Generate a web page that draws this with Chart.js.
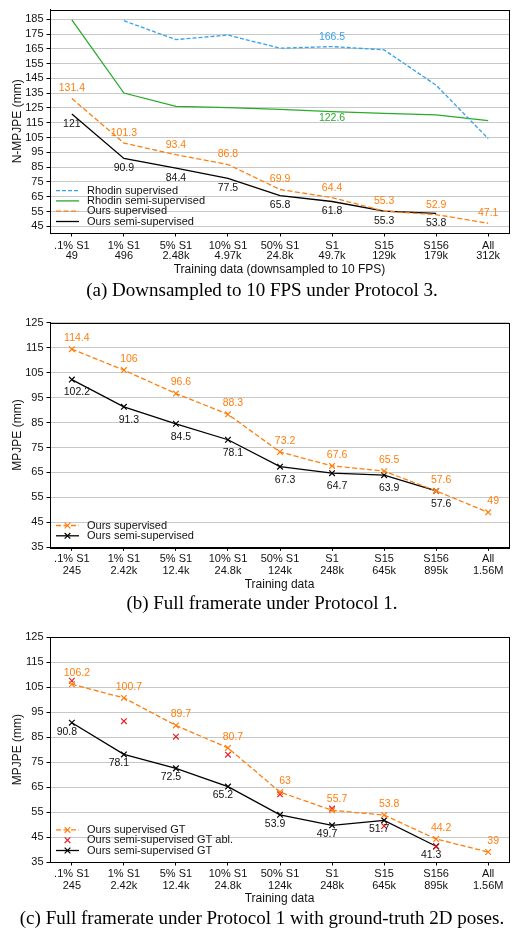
<!DOCTYPE html>
<html>
<head>
<meta charset="utf-8">
<script src="https://cdn.jsdelivr.net/npm/chart.js@4.4.1/dist/chart.umd.min.js"></script>
<style>
body { margin: 0; background: #fff; width: 528px; height: 941px; position: relative; overflow: hidden; }
.box { position: absolute; left: 0; width: 528px; }
.cap { position: absolute; left: 0; width: 524px; text-align: center; font-family: "Liberation Serif", serif;
       font-size: 19px; line-height: 22px; color: #000; white-space: nowrap; }
</style>
</head>
<body>
<div class="box" style="top:0;height:281px"><canvas id="chartA"></canvas></div>
<div class="cap" style="top:279px">(a) Downsampled to 10 FPS under Protocol 3.</div>
<div class="box" style="top:310px;height:286px"><canvas id="chartB"></canvas></div>
<div class="cap" style="top:592px">(b) Full framerate under Protocol 1.</div>
<div class="box" style="top:625px;height:285px"><canvas id="chartC"></canvas></div>
<div class="cap" style="top:907px">(c) Full framerate under Protocol 1 with ground-truth 2D poses.</div>
<script>
// categories (two-line tick labels)
const labelsA = [['.1% S1', '49'], ['1% S1', '496'], ['5% S1', '2.48k'], ['10% S1', '4.97k'], ['50% S1', '24.8k'],
    ['S1', '49.7k'], ['S15', '129k'], ['S156', '179k'], ['All', '312k']];
const labelsBC = [['.1% S1', '245'], ['1% S1', '2.42k'], ['5% S1', '12.4k'], ['10% S1', '24.8k'], ['50% S1', '124k'],
    ['S1', '248k'], ['S15', '645k'], ['S156', '895k'], ['All', '1.56M']];

// y tick labels
const ticksA = [45, 55, 65, 75, 85, 95, 105, 115, 125, 135, 145, 155, 165, 175, 185];
const ticksBC = [35, 45, 55, 65, 75, 85, 95, 105, 115, 125];

// (a) downsampled to 10 FPS, protocol 3
const rhodinSupA = [null, 184, 171.2, 174.3, 165.4, 166.5, 164.3, 140.4, 104.3];
const rhodinSemiA = [184.5, 135.1, 126.1, 125.3, 124.1, 122.6, 121.3, 120.4, 116.4];
const oursSupA = [131.4, 101.3, 93.4, 86.8, 69.9, 64.4, 55.3, 52.9, 47.1];
const oursSemiA = [121, 90.9, 84.4, 77.5, 65.8, 61.8, 55.3, 53.8, null];

// (b) full framerate, protocol 1
const oursSupB = [114.4, 106, 96.6, 88.3, 73.2, 67.6, 65.5, 57.6, 49];
const oursSemiB = [102.2, 91.3, 84.5, 78.1, 67.3, 64.7, 63.9, 57.6, null];

// (c) full framerate, protocol 1, GT 2D poses
const oursSupC = [106.2, 100.7, 89.7, 80.7, 63, 55.7, 53.8, 44.2, 39];
const oursAblC = [107.6, 91.4, 85.2, 78, 62.1, 56.4, 49.4, 41.1, null];
const oursSemiC = [90.8, 78.1, 72.5, 65.2, 53.9, 49.7, 51.7, 41.3, null];

const BLUE = '#35a2ea', GREEN = '#2aaa2a', ORANGE = '#ff7f0e', RED = '#e8202a', BLACK = '#000';
const SANS = '"Liberation Sans", Arial, sans-serif';
const TXT = '#111';

function toXY(arr) {
    return arr.map((y, i) => ({ x: i, y: y })).filter(p => p.y !== null);
}

// black frame round the plot
const framePlugin = {
    id: 'frame',
    afterDatasetsDraw(chart) {
        const a = chart.chartArea, ctx = chart.ctx;
        ctx.save();
        ctx.strokeStyle = '#000';
        ctx.lineWidth = 1;
        ctx.strokeRect(Math.round(a.left) + 0.5, Math.round(a.top) + 0.5,
            Math.round(a.right - a.left), Math.round(a.bottom - a.top));
        ctx.restore();
    }
};

// value text next to the points
const valuePlugin = {
    id: 'values',
    afterDatasetsDraw(chart) {
        const ctx = chart.ctx;
        ctx.save();
        ctx.font = '10.5px ' + SANS;
        ctx.textAlign = 'center';
        ctx.textBaseline = 'middle';
        chart.data.datasets.forEach((ds, i) => {
            const v = ds.valueLabels;
            if (!v) return;
            const meta = chart.getDatasetMeta(i);
            ctx.fillStyle = v.color || ds.borderColor;
            meta.data.forEach((pt, j) => {
                if (v.only && !v.only.includes(j)) return;
                ctx.fillText(String(ds.data[j].y), pt.x + v.dx, pt.y + v.dy);
            });
        });
        ctx.restore();
    }
};

function drawCross(ctx, x, y, r) {
    const d = Math.cos(Math.PI / 4) * r;
    ctx.beginPath();
    ctx.moveTo(x - d, y - d); ctx.lineTo(x + d, y + d);
    ctx.moveTo(x - d, y + d); ctx.lineTo(x + d, y - d);
    ctx.stroke();
}

// legend in lower left corner of the plot
const legendPlugin = {
    id: 'insideLegend',
    afterDraw(chart) {
        const a = chart.chartArea, ctx = chart.ctx;
        const sets = chart.data.datasets;
        const n = sets.length;
        ctx.save();
        ctx.font = '11px ' + SANS;
        ctx.textBaseline = 'middle';
        ctx.textAlign = 'left';
        sets.forEach((ds, j) => {
            const y = a.bottom - 11.5 - (n - 1 - j) * 10.3;
            const x0 = a.left + 6, x1 = a.left + 29;
            ctx.strokeStyle = ds.borderColor;
            ctx.lineWidth = ds.borderWidth;
            if (ds.showLine !== false) {
                ctx.setLineDash(ds.borderDash || []);
                ctx.beginPath();
                ctx.moveTo(x0, y); ctx.lineTo(x1, y);
                ctx.stroke();
                ctx.setLineDash([]);
            }
            if (ds.pointRadius > 0) {
                ctx.strokeStyle = ds.pointBorderColor || ds.borderColor;
                ctx.lineWidth = ds.pointBorderWidth || 1;
                drawCross(ctx, (x0 + x1) / 2, y, ds.pointRadius);
            }
            ctx.fillStyle = TXT;
            ctx.fillText(ds.label, a.left + 37, y);
        });
        ctx.restore();
    }
};

function makeChart(id, o) {
    return new Chart(document.getElementById(id), {
        type: 'line',
        data: { datasets: o.datasets },
        options: {
            responsive: true,
            maintainAspectRatio: false,
            animation: false,
            events: [],
            layout: { padding: { top: o.padTop, right: 19, left: 0, bottom: 0 } },
            plugins: { legend: { display: false }, tooltip: { enabled: false } },
            scales: {
                x: {
                    type: 'linear',
                    min: -0.42,
                    max: 8.4,
                    afterBuildTicks: s => { s.ticks = o.labels.map((_, i) => ({ value: i })); },
                    afterFit: s => { s.height = o.xAxisH; },
                    ticks: {
                        autoSkip: false,
                        maxRotation: 0,
                        padding: o.tickPad,
                        color: TXT,
                        font: { family: SANS, size: 11, lineHeight: o.tickLH },
                        callback: v => o.labels[v]
                    },
                    grid: { drawOnChartArea: false, tickLength: 3.5, tickColor: '#000', tickWidth: 1 },
                    border: { color: '#000', width: 1 },
                    title: {
                        display: true, text: o.xTitle, color: TXT,
                        font: { family: SANS, size: 12 },
                        padding: { top: 0, bottom: o.titlePad }
                    }
                },
                y: {
                    min: o.yMin,
                    max: o.yMax,
                    afterBuildTicks: s => { s.ticks = o.yTicks.map(v => ({ value: v })); },
                    afterFit: s => { s.width = 50; },
                    ticks: { autoSkip: false, padding: 3, color: TXT, font: { family: SANS, size: 11 } },
                    grid: { color: '#c8c8c8', lineWidth: 1, tickLength: 3.5, tickColor: '#000' },
                    border: { color: '#000', width: 1 },
                    title: {
                        display: true, text: o.yTitle, color: TXT,
                        font: { family: SANS, size: 12 },
                        padding: { top: 10, bottom: 0 }
                    }
                }
            }
        },
        plugins: [framePlugin, valuePlugin, legendPlugin]
    });
}

function line(label, values, color, dash, marker, lbl) {
    return {
        label: label,
        data: toXY(values),
        borderColor: color,
        backgroundColor: color,
        borderWidth: 1.3,
        borderDash: dash,
        pointStyle: 'crossRot',
        pointRadius: marker ? 4 : 0,
        pointBorderWidth: 1.2,
        pointBorderColor: color,
        tension: 0,
        fill: false,
        valueLabels: lbl
    };
}

makeChart('chartA', {
    labels: labelsA, yTicks: ticksA, yMin: 40.5, yMax: 191.5,
    padTop: 7, xAxisH: 48, tickLH: '10.3px', tickPad: 4.5, titlePad: 3.8,
    xTitle: 'Training data (downsampled to 10 FPS)', yTitle: 'N-MPJPE (mm)',
    datasets: [
        line('Rhodin supervised', rhodinSupA, BLUE, [4, 2], false, { dx: 0, dy: -9, only: [4] }),
        line('Rhodin semi-supervised', rhodinSemiA, GREEN, [], false, { dx: 0, dy: 7, only: [5] }),
        line('Ours supervised', oursSupA, ORANGE, [5, 2.5], false, { dx: 0, dy: -10 }),
        line('Ours semi-supervised', oursSemiA, BLACK, [], false, { dx: 0, dy: 10, color: TXT })
    ]
});

makeChart('chartB', {
    labels: labelsBC, yTicks: ticksBC, yMin: 35, yMax: 125,
    padTop: 12.7, xAxisH: 48.7, tickLH: '12px', tickPad: 2.3, titlePad: 3.8,
    xTitle: 'Training data', yTitle: 'MPJPE (mm)',
    datasets: [
        line('Ours supervised', oursSupB, ORANGE, [5, 2.5], true, { dx: 5, dy: -11 }),
        line('Ours semi-supervised', oursSemiB, BLACK, [], true, { dx: 5, dy: 13, color: TXT })
    ]
});

const ablC = line('Ours semi-supervised GT abl.', oursAblC, RED, [], true, null);
ablC.showLine = false;

makeChart('chartC', {
    labels: labelsBC, yTicks: ticksBC, yMin: 35, yMax: 125,
    padTop: 12.3, xAxisH: 48, tickLH: '12px', tickPad: 2.5, titlePad: 4.1,
    xTitle: 'Training data', yTitle: 'MPJPE (mm)',
    datasets: [
        line('Ours supervised GT', oursSupC, ORANGE, [5, 2.5], true, { dx: 5, dy: -11 }),
        ablC,
        line('Ours semi-supervised GT', oursSemiC, BLACK, [], true, { dx: -5, dy: 9, color: TXT })
    ]
});
</script>
</body>
</html>
